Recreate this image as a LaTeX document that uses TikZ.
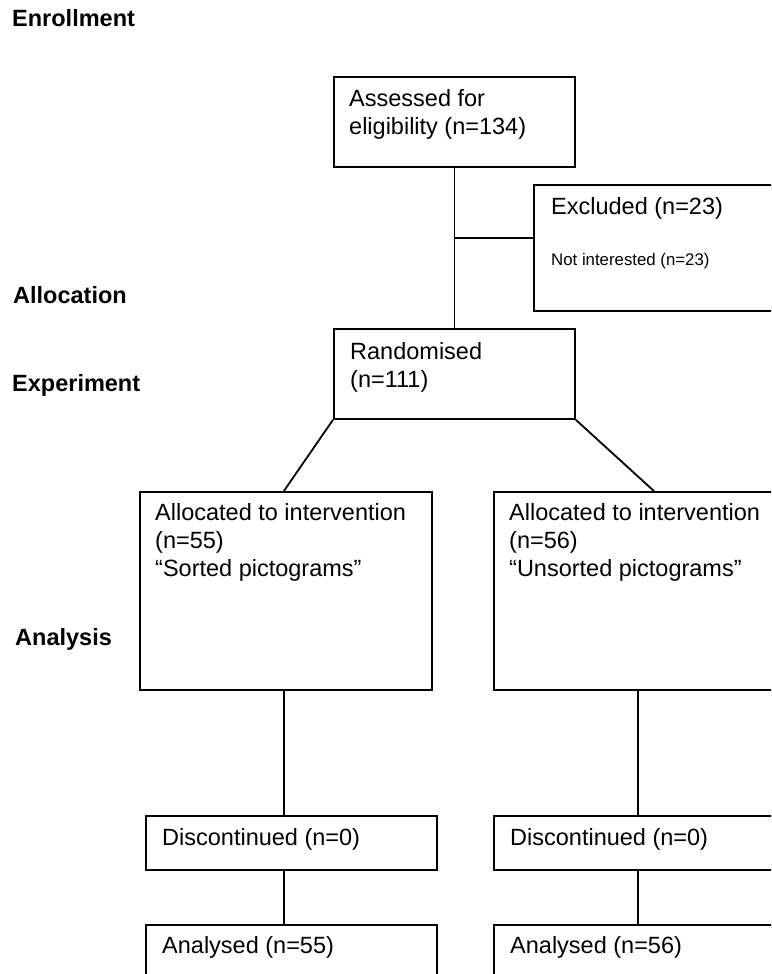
\documentclass[tikz,border=0pt]{standalone}
\usepackage{fontspec}
\setmainfont{Liberation Sans}
\usetikzlibrary{positioning}

\begin{document}
\begin{tikzpicture}[x=1pt, y=-1pt,
    box/.style={draw, line width=1.8pt, anchor=north west, inner sep=0pt},
    boxtext/.style={anchor=north west, inner sep=0pt, align=left, font=\fontsize{23.5}{28}\selectfont},
    phase/.style={anchor=base west, inner sep=0pt, font=\fontsize{23.5}{28}\selectfont\bfseries},
    link/.style={line width=1.8pt}]
    \useasboundingbox (0,0) rectangle (771,974);
    \clip (0,0) rectangle (771,974);

    % Phase labels
    \node[phase] (enrol) at (12,27) {Enrollment};
    \node[phase] (alloc) at (13,303) {Allocation};
    \node[phase] (exper) at (12,391) {Experiment};
    \node[phase] (anal) at (15,645) {Analysis};

    % Enrollment
    \node[box, minimum width=241pt, minimum height=90pt] (assess) at (333,76) {};
    \node[boxtext] (assessT) at ([shift={(16,13)}]assess.north west) {Assessed for\\eligibility (n=134)};
    \node[box, minimum width=260pt, minimum height=126pt] (excl) at (533,184) {};
    \node[boxtext] (exclT) at ([shift={(18,13)}]excl.north west) {Excluded (n=23)};
    \node[anchor=base west, inner sep=0pt, font=\fontsize{16.8}{20}\selectfont] (exclR) at (551,265) {Not interested (n=23)};

    % Allocation
    \node[box, minimum width=241pt, minimum height=90pt] (rand) at (333,328) {};
    \node[boxtext] (randT) at ([shift={(17,14)}]rand.north west) {Randomised\\(n=111)};

    % Experiment
    \node[box, minimum width=292pt, minimum height=198pt] (allocA) at (139,491) {};
    \node[boxtext] (allocAT) at ([shift={(16,12)}]allocA.north west) {Allocated to intervention\\(n=55)\\“Sorted pictograms”};
    \node[box, minimum width=292pt, minimum height=198pt] (allocB) at (493,491) {};
    \node[boxtext] (allocBT) at ([shift={(16,12)}]allocB.north west) {Allocated to intervention\\(n=56)\\“Unsorted pictograms”};

    % Analysis
    \node[box, minimum width=291pt, minimum height=54pt] (discA) at (145,815) {};
    \node[boxtext] (discAT) at ([shift={(17,13)}]discA.north west) {Discontinued (n=0)};
    \node[box, minimum width=291pt, minimum height=54pt] (discB) at (493,815) {};
    \node[boxtext] (discBT) at ([shift={(17,13)}]discB.north west) {Discontinued (n=0)};
    \node[box, minimum width=291pt, minimum height=54pt] (anaA) at (145,924) {};
    \node[boxtext] (anaAT) at ([shift={(17,12)}]anaA.north west) {Analysed (n=55)};
    \node[box, minimum width=291pt, minimum height=54pt] (anaB) at (493,924) {};
    \node[boxtext] (anaBT) at ([shift={(17,12)}]anaB.north west) {Analysed (n=56)};

    % Connectors
    \coordinate (split) at (assess.south |- 0,238);
    \draw[link] (assess.south) -- (rand.north);
    \draw[link] (split) -- (split -| excl.west);
    \draw[link] (rand.south west) -- ([xshift=-2pt]allocA.north);
    \draw[link] (rand.south east) -- ([xshift=14pt]allocB.north);
    \draw[link] ([xshift=-2pt]allocA.south) -- ([xshift=-2pt]allocA.south |- discA.north);
    \draw[link] ([xshift=-2pt]allocA.south |- discA.south) -- ([xshift=-2pt]allocA.south |- anaA.north);
    \draw[link] ([xshift=-2pt]allocB.south) -- ([xshift=-2pt]allocB.south |- discB.north);
    \draw[link] ([xshift=-2pt]allocB.south |- discB.south) -- ([xshift=-2pt]allocB.south |- anaB.north);
\end{tikzpicture}
\end{document}
